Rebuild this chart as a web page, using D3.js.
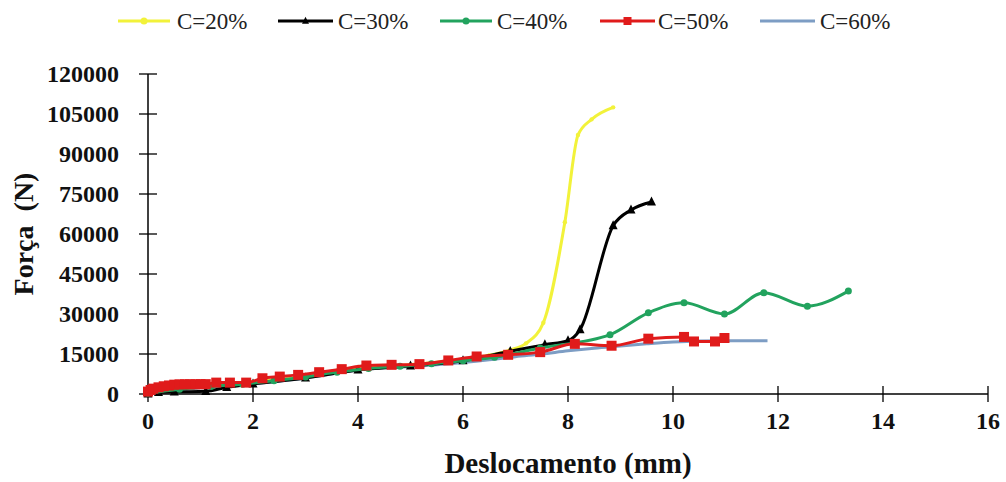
<!DOCTYPE html>
<html>
<head>
<meta charset="utf-8">
<script src="https://cdn.jsdelivr.net/npm/d3@7"></script>
<style>
  html, body { margin: 0; padding: 0; background: #fff; }
  svg { display: block; }
</style>
</head>
<body>
<svg id="chart" width="1006" height="482"></svg>
<script>
// ---- data (x: Deslocamento mm, y: Força N) ----
const xTicks = [0, 2, 4, 6, 8, 10, 12, 14, 16];
const yTicks = [0, 15000, 30000, 45000, 60000, 75000, 90000, 105000, 120000];
const seriesNames = ["C=20%", "C=30%", "C=40%", "C=50%", "C=60%"];

const c20 = [[0,500],[0.6,2000],[1.2,3000],[2,4500],[3,6500],[4,9500],[5,11000],[6,13000],[6.5,14500],[6.9,16500],
  [7.2,19000],[7.53,26700],[7.94,64400],[8.19,97100],[8.45,103000],[8.86,107500]];
const c30 = [[0,0],[0.2,600],[0.5,800],[1.1,1000],[1.5,2500],[2,3800],[3,6000],[4,9000],[5,10500],[6,12500],
  [6.9,16000],[7.56,18500],[8.0,20000],[8.23,24150],[8.86,63100],[9.2,69000],[9.59,72000]];
const c40 = [[0,300],[0.6,1800],[1.2,2800],[1.8,3700],[2.4,5000],[3.0,6400],[3.6,8200],[4.2,9600],[4.8,10400],
  [5.4,11300],[6.0,12500],[6.6,13800],[7.47,17250],[8.8,22260],[9.53,30450],[10.21,34200],[10.98,30000],
  [11.73,38000],[12.56,32950],[13.34,38600]];
const c50 = [[0,900],[0.05,1500],[0.1,2000],[0.2,2500],[0.3,2900],[0.4,3200],[0.5,3500],[0.6,3600],[0.7,3650],
  [0.8,3650],[0.9,3650],[1.0,3700],[1.1,3700],[1.3,4270],[1.56,4270],[1.87,4270],[2.18,5900],[2.51,6530],
  [2.86,7170],[3.26,8180],[3.69,9320],[4.16,10680],[4.64,10940],[5.17,11200],[5.72,12580],[6.26,14070],
  [6.86,14700],[7.47,15700],[8.13,18800],[8.83,18100],[9.53,20750],[10.21,21400],[10.4,19700],[10.8,19700],[10.98,21000]];
const c60 = [[0,0],[0.5,1500],[1,2300],[1.5,3000],[2,3800],[2.5,4800],[3,6000],[3.5,7500],[4,9000],[4.5,9800],
  [5,10300],[5.5,11000],[6,11800],[6.5,12800],[7,14000],[7.5,15000],[8,16200],[8.5,17200],[9,18000],[9.5,18800],
  [10,19500],[10.5,19900],[11,20000],[11.8,20000]];

const colors = ["#f2f23a", "#000000", "#22a35e", "#e01b1b", "#7d9dc4"];
const markers = ["circle", "triangle", "circle", "square", "none"];
const dataAll = [c20, c30, c40, c50, c60];

// ---- layout ----
const svg = d3.select("#chart");
const x = d3.scaleLinear().domain([0, 16]).range([148, 988]);
const y = d3.scaleLinear().domain([0, 120000]).range([394, 74]);
const serif = "'Liberation Serif', 'Times New Roman', Times, serif";

// axes
const gx = svg.append("g").attr("transform", `translate(0,${y(0)})`);
gx.append("line").attr("x1", x(0)).attr("x2", x(16)).attr("stroke", "#000").attr("stroke-width", 1.5);
gx.selectAll("line.t").data(xTicks).join("line").attr("class", "t")
  .attr("x1", d => x(d)).attr("x2", d => x(d)).attr("y1", -8).attr("y2", 8)
  .attr("stroke", "#000").attr("stroke-width", 1.3);
gx.selectAll("text").data(xTicks).join("text")
  .attr("x", d => x(d)).attr("y", 35).attr("text-anchor", "middle")
  .attr("font-family", serif).attr("font-weight", "bold").attr("font-size", 24)
  .attr("fill", "#111").text(d => d);

const gy = svg.append("g").attr("transform", `translate(${x(0)},0)`);
gy.append("line").attr("y1", y(0)).attr("y2", y(120000)).attr("stroke", "#000").attr("stroke-width", 1.5);
gy.selectAll("line.t").data(yTicks).join("line").attr("class", "t")
  .attr("x1", -9).attr("x2", 9).attr("y1", d => y(d)).attr("y2", d => y(d))
  .attr("stroke", "#000").attr("stroke-width", 1.3);
gy.selectAll("text").data(yTicks).join("text")
  .attr("x", -29).attr("y", d => y(d) + 8).attr("text-anchor", "end")
  .attr("font-family", serif).attr("font-weight", "bold").attr("font-size", 24)
  .attr("fill", "#111").text(d => d);

// axis titles
svg.append("text").attr("x", 568).attr("y", 473).attr("text-anchor", "middle")
  .attr("font-family", serif).attr("font-weight", "bold").attr("font-size", 29)
  .attr("fill", "#111").text("Deslocamento (mm)");
svg.append("text").attr("transform", "translate(33,234) rotate(-90)").attr("text-anchor", "middle")
  .attr("font-family", serif).attr("font-weight", "bold").attr("font-size", 28)
  .attr("fill", "#111").attr("xml:space", "preserve").style("white-space", "pre").text("Força  (N)");

// series
const line = d3.line().x(d => x(d[0])).y(d => y(d[1])).curve(d3.curveMonotoneX);
function drawMarker(g, type, color, cx, cy, s) {
  if (type === "circle") g.append("circle").attr("cx", cx).attr("cy", cy).attr("r", s).attr("fill", color);
  else if (type === "square") g.append("rect").attr("x", cx - s).attr("y", cy - s).attr("width", 2 * s).attr("height", 2 * s).attr("fill", color);
  else if (type === "triangle") g.append("path").attr("d", `M${cx},${cy - s * 1.2}L${cx + s},${cy + s * 0.8}L${cx - s},${cy + s * 0.8}Z`).attr("fill", color);
}
const order = [4, 0, 1, 2, 3];
const markerSize = [2.2, 4.5, 3.5, 5, 0];
order.forEach(i => {
  const g = svg.append("g");
  g.append("path").datum(dataAll[i]).attr("d", line).attr("fill", "none")
    .attr("stroke", colors[i]).attr("stroke-width", 3).attr("stroke-linejoin", "round");
  if (markers[i] !== "none") dataAll[i].forEach(d => drawMarker(g, markers[i], colors[i], x(d[0]), y(d[1]), markerSize[i]));
});

// legend
const legLine = [[118, 170], [278, 333], [440, 492], [600, 655], [760, 815]];
const legText = [177, 338, 497, 658, 820];
const lg = svg.append("g");
seriesNames.forEach((n, i) => {
  lg.append("line").attr("x1", legLine[i][0]).attr("x2", legLine[i][1]).attr("y1", 21).attr("y2", 21)
    .attr("stroke", colors[i]).attr("stroke-width", 3);
  if (markers[i] !== "none") drawMarker(lg, markers[i], colors[i], (legLine[i][0] + legLine[i][1]) / 2, 21, markers[i] === "square" ? 4 : 3.5);
  lg.append("text").attr("x", legText[i]).attr("y", 29).attr("font-family", serif)
    .attr("font-size", 23).attr("fill", "#222").text(n);
});
</script>
</body>
</html>
